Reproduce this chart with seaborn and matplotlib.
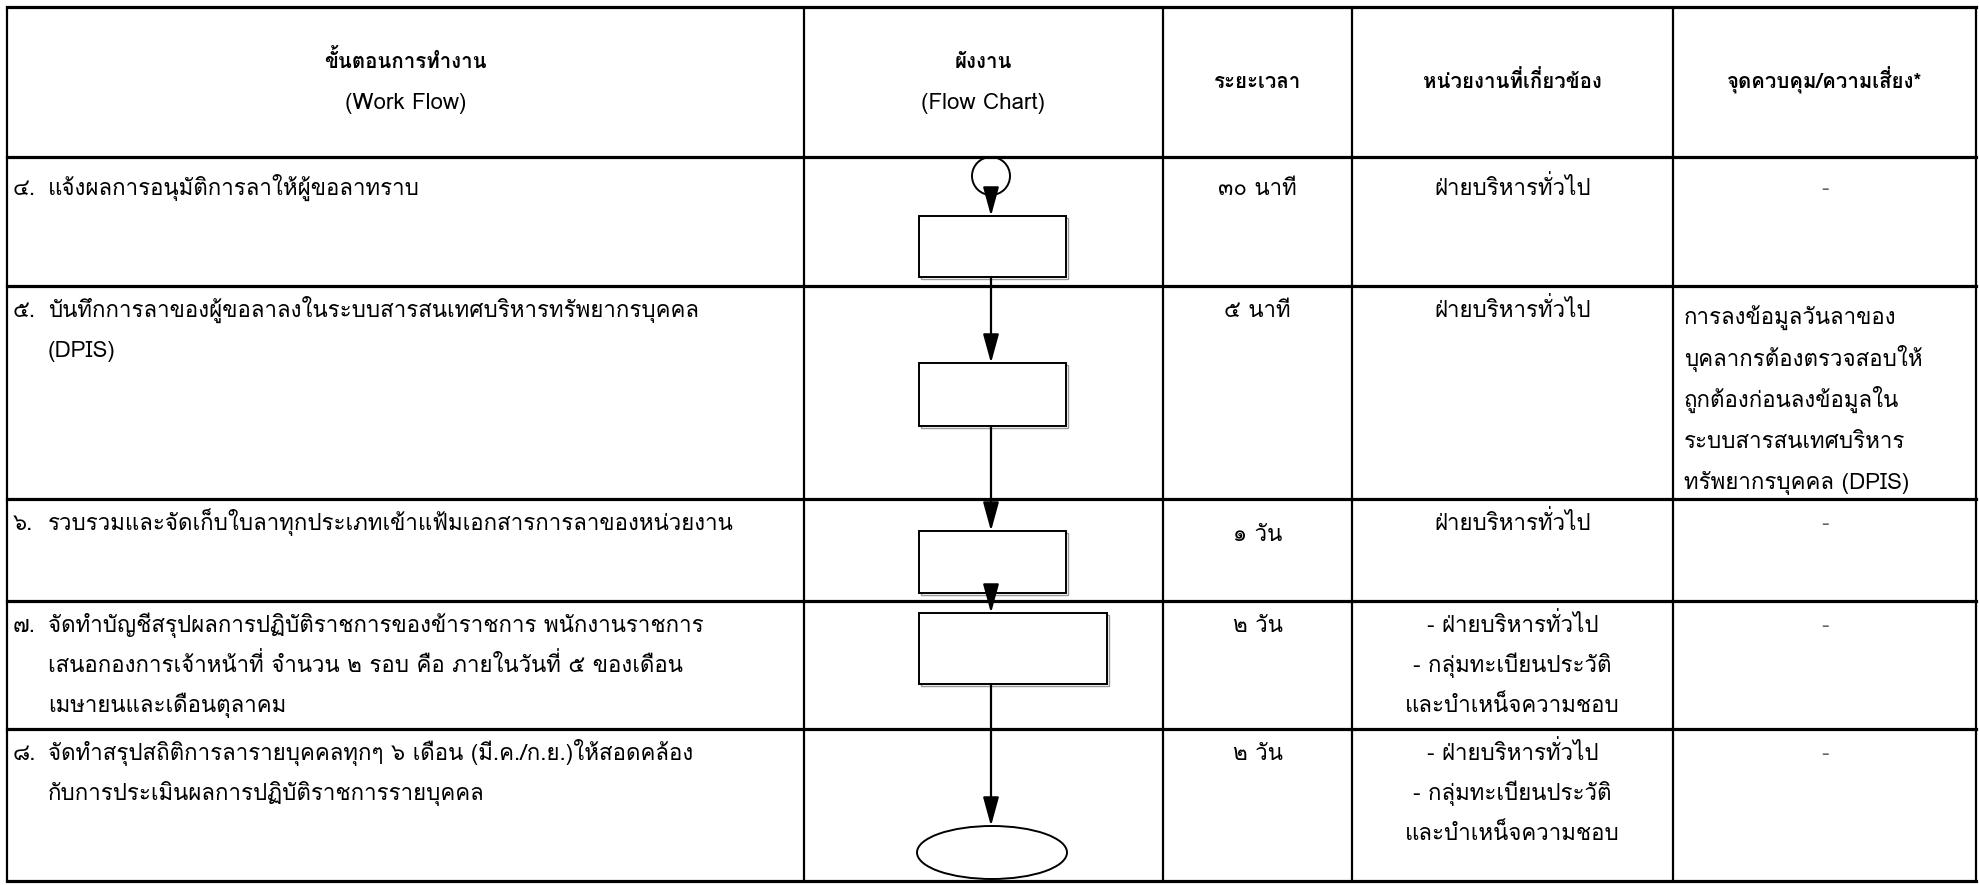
import matplotlib
matplotlib.use("Agg")
import matplotlib.pyplot as plt
from matplotlib.patches import Rectangle, Ellipse, Circle
import seaborn as sns

# ---- table content ----
headers = ["ขั้นตอนการทำงาน\n(Work Flow)", "ผังงาน\n(Flow Chart)", "ระยะเวลา",
           "หน่วยงานที่เกี่ยวข้อง", "จุดควบคุม/ความเสี่ยง*"]
step_numbers = ["๔.", "๕.", "๖.", "๗.", "๘."]
step_texts = [
    ["แจ้งผลการอนุมัติการลาให้ผู้ขอลาทราบ"],
    ["บันทึกการลาของผู้ขอลาลงในระบบสารสนเทศบริหารทรัพยากรบุคคล", "(DPIS)"],
    ["รวบรวมและจัดเก็บใบลาทุกประเภทเข้าแฟ้มเอกสารการลาของหน่วยงาน"],
    ["จัดทำบัญชีสรุปผลการปฏิบัติราชการของข้าราชการ พนักงานราชการ",
     "เสนอกองการเจ้าหน้าที่ จำนวน ๒ รอบ คือ ภายในวันที่ ๕ ของเดือน",
     "เมษายนและเดือนตุลาคม"],
    ["จัดทำสรุปสถิติการลารายบุคคลทุกๆ ๖ เดือน (มี.ค./ก.ย.)ให้สอดคล้อง",
     "กับการประเมินผลการปฏิบัติราชการรายบุคคล"],
]
durations = ["๓๐ นาที", "๕ นาที", "๑ วัน", "๒ วัน", "๒ วัน"]
units = [
    ["ฝ่ายบริหารทั่วไป"],
    ["ฝ่ายบริหารทั่วไป"],
    ["ฝ่ายบริหารทั่วไป"],
    ["- ฝ่ายบริหารทั่วไป", "- กลุ่มทะเบียนประวัติ", "และบำเหน็จความชอบ"],
    ["- ฝ่ายบริหารทั่วไป", "- กลุ่มทะเบียนประวัติ", "และบำเหน็จความชอบ"],
]
controls = [
    ["-"],
    ["การลงข้อมูลวันลาของ", "บุคลากรต้องตรวจสอบให้", "ถูกต้องก่อนลงข้อมูลใน",
     "ระบบสารสนเทศบริหาร", "ทรัพยากรบุคคล (DPIS)"],
    ["-"],
    ["-"],
    ["-"],
]
# flow chart symbol for each step
shapes = ["box", "box", "box", "wide_box", "ellipse"]

# ---- layout (pixels, y grows downward) ----
col_x = [7, 804, 1163, 1352, 1673, 1976]
row_y = [7, 157, 286, 499, 601, 729, 881]
first_line_dy = [31, 24, 24, 24, 24]
duration_dy = [0, 0, 11, 0, 0]
shape_y = [(216, 277), (363, 426), (531, 593), (613, 684), (826, 879)]
flow_x = 991
line_h = 40

# Loma carries the legacy Thai presentation forms, so tone marks can be
# placed by hand (matplotlib does no Thai shaping)
THAI_FONT = ["Loma", "Sarabun", "DejaVu Sans"]

TONES = "\u0e48\u0e49\u0e4a\u0e4b\u0e4c"
UPPER = "\u0e31\u0e34\u0e35\u0e36\u0e37\u0e47\u0e4d"
UPPER_LEFT = {"\u0e31": "\uf710", "\u0e34": "\uf701", "\u0e35": "\uf702",
              "\u0e36": "\uf703", "\u0e37": "\uf704", "\u0e47": "\uf712",
              "\u0e4d": "\uf711"}
TALL = "ปฝฟฬ"


def thai_fix(s):
    out = []
    base = ""
    has_upper = False
    for i, ch in enumerate(s):
        if ch in UPPER:
            has_upper = True
            out.append(UPPER_LEFT[ch] if base in TALL else ch)
        elif ch in TONES:
            k = TONES.index(ch)
            nxt = s[i + 1] if i + 1 < len(s) else ""
            if has_upper or nxt == "\u0e33":
                out.append(chr(0xF713 + k) if base in TALL else ch)
            else:
                out.append(chr(0xF705 + k) if base in TALL else chr(0xF70A + k))
        elif ch in "\u0e38\u0e39\u0e3a":
            out.append(ch)
        else:
            base = ch
            has_upper = False
            out.append(ch)
    return "".join(out)


sns.set_style("white")
plt.rcParams["font.family"] = THAI_FONT

fig = plt.figure(figsize=(19.79, 8.85), dpi=100)
ax = fig.add_axes([0, 0, 1, 1])
ax.set_xlim(0, 1979)
ax.set_ylim(885, 0)
ax.axis("off")


def fit_size(text, target_px, weight):
    # font size that gives the text the width seen in the reference
    size = 10.0
    for _ in range(3):
        t = ax.text(0, 100, thai_fix(text), fontsize=size, fontweight=weight)
        w = t.get_window_extent(renderer=fig.canvas.get_renderer()).width
        t.remove()
        size = size * target_px / w
    return size


fs = fit_size(step_texts[2][0], 686, "normal")
fs_head = fit_size("ขั้นตอนการทำงาน", 162, "bold")


def put(x, y, s, size, ha="left", weight="normal", color="black"):
    # y is the visual middle of the line; draw on a fixed baseline
    base_y = y + 0.30 * size * 100 / 72
    ax.text(x, base_y, thai_fix(s), ha=ha, va="baseline", fontsize=size,
            fontweight=weight, color=color)


# grid lines
for y in row_y:
    ax.plot([col_x[0], col_x[-1]], [y, y], color="black", lw=2.3, solid_capstyle="projecting")
for x in col_x:
    ax.plot([x, x], [row_y[0], row_y[-1]], color="black", lw=1.6, solid_capstyle="butt")

# header
for i, h in enumerate(headers):
    cx = (col_x[i] + col_x[i + 1]) / 2
    lines = h.split("\n")
    cy = (row_y[0] + row_y[1]) / 2 - (len(lines) - 1) * line_h / 2
    for k, ln in enumerate(lines):
        put(cx, cy + k * line_h, ln, fs_head if k == 0 else fs, ha="center",
            weight="bold" if k == 0 else "normal")

# body rows
for r in range(5):
    y0 = row_y[r + 1] + first_line_dy[r]
    put(col_x[0] + 6, y0, step_numbers[r], fs)
    for k, ln in enumerate(step_texts[r]):
        put(col_x[0] + 41, y0 + k * line_h, ln, fs)
    put((col_x[2] + col_x[3]) / 2, y0 + duration_dy[r], durations[r], fs, ha="center")
    for k, ln in enumerate(units[r]):
        put((col_x[3] + col_x[4]) / 2, y0 + k * line_h, ln, fs, ha="center")
    if controls[r] == ["-"]:
        put((col_x[4] + col_x[5]) / 2, y0, "-", fs, ha="center", color="#666666")
    else:
        for k, ln in enumerate(controls[r]):
            put(col_x[4] + 11, y0 + 8 + k * 41, ln, fs)

# flow chart
ax.add_patch(Circle((flow_x, 176), 19, fill=False, ec="black", lw=1.4))
prev_bottom = 195
for r, kind in enumerate(shapes):
    t, b = shape_y[r]
    ax.annotate("", xy=(flow_x, t), xytext=(flow_x, prev_bottom),
                arrowprops=dict(arrowstyle="-|>,head_length=0.8,head_width=0.22",
                                color="black", lw=1.6, mutation_scale=22,
                                shrinkA=0, shrinkB=0))
    if kind == "ellipse":
        ax.add_patch(Ellipse((flow_x + 1, (t + b) / 2), 150, b - t, fill=False,
                             ec="black", lw=1.4))
    else:
        right = 1107 if kind == "wide_box" else 1066
        ax.add_patch(Rectangle((921, t + 2), right - 919, b - t, fill=False,
                               ec="#9a9a9a", lw=1.0))
        ax.add_patch(Rectangle((919, t), right - 919, b - t, facecolor="white",
                               ec="black", lw=1.4))
    prev_bottom = b

fig.savefig("out.png", dpi=100)
